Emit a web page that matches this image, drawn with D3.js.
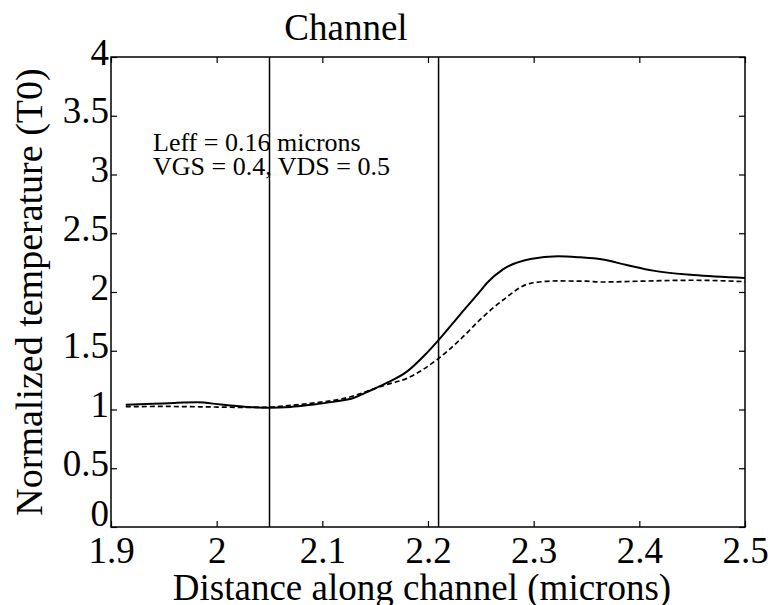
<!DOCTYPE html>
<html>
<head>
<meta charset="utf-8">
<script src="https://cdn.jsdelivr.net/npm/d3@7"></script>
<style>
  html, body { margin: 0; padding: 0; background: #fff; }
  svg { display: block; }
  svg text { font-family: "Liberation Serif", "DejaVu Serif", serif !important; fill: #000; }
</style>
</head>
<body>
<svg id="chart" width="768" height="605"></svg>
<script>
// ---- data ----
const solidX = [1.914, 1.94, 1.96, 1.982, 2.004, 2.03, 2.05, 2.07, 2.089, 2.11, 2.13, 2.14, 2.16, 2.18, 2.197, 2.21, 2.23, 2.249, 2.256, 2.271, 2.297, 2.323, 2.344, 2.364, 2.388, 2.413, 2.451, 2.5];
const solidY = [1.041, 1.048, 1.056, 1.061, 1.042, 1.022, 1.015, 1.022, 1.040, 1.065, 1.100, 1.140, 1.222, 1.322, 1.464, 1.591, 1.804, 2.003, 2.079, 2.193, 2.281, 2.305, 2.295, 2.278, 2.230, 2.182, 2.145, 2.120];
const dashX = [1.914, 1.95, 2.0, 2.03, 2.05, 2.07, 2.089, 2.121, 2.16, 2.18, 2.21, 2.23, 2.249, 2.271, 2.297, 2.322, 2.35, 2.364, 2.4, 2.45, 2.5];
const dashY = [1.024, 1.026, 1.021, 1.018, 1.020, 1.035, 1.053, 1.095, 1.210, 1.265, 1.435, 1.591, 1.762, 1.932, 2.074, 2.094, 2.092, 2.085, 2.092, 2.100, 2.088];
const channelEdges = [2.05, 2.21];
const xTicks = [1.9, 2.0, 2.1, 2.2, 2.3, 2.4, 2.5];
const xTickLabels = ["1.9", "2", "2.1", "2.2", "2.3", "2.4", "2.5"];
const yTicks = [0, 0.5, 1, 1.5, 2, 2.5, 3, 3.5, 4];
const yTickLabels = ["0", "0.5", "1", "1.5", "2", "2.5", "3", "3.5", "4"];
const titleText = "Channel";
const xLabelText = "Distance along channel (microns)";
const yLabelText = "Normalized temperature (T0)";
const noteLines = ["Leff = 0.16 microns", "VGS = 0.4, VDS = 0.5"];

// ---- layout ----
const FONT = "'Liberation Serif', 'DejaVu Serif', serif";
const L = 111, R = 745, T = 57, B = 527;
const svg = d3.select("#chart");
const x = d3.scaleLinear().domain([1.9, 2.5]).range([L, R]);
const y = d3.scaleLinear().domain([0, 4]).range([B, T]);

// frame
svg.append("rect").attr("x", L).attr("y", T).attr("width", R - L).attr("height", B - T)
  .attr("fill", "none").attr("stroke", "#000").attr("stroke-width", 1.5);

const tickLen = 6;
// x ticks bottom & top (inward)
const bottomAxis = d3.axisBottom(x).tickValues(xTicks).tickSize(-tickLen).tickFormat((d, i) => xTickLabels[i]);
const gB = svg.append("g").attr("transform", `translate(0,${B})`).call(bottomAxis)
  .attr("font-family", FONT);
gB.select(".domain").remove();
gB.selectAll(".tick line").attr("stroke", "#000").attr("stroke-width", 1.2);
gB.selectAll(".tick text").attr("font-size", 37).attr("y", 0).attr("dy", 36)
  .attr("font-family", FONT);

const topAxis = d3.axisTop(x).tickValues(xTicks).tickSize(-tickLen).tickFormat("");
const gT = svg.append("g").attr("transform", `translate(0,${T})`).call(topAxis);
gT.select(".domain").remove();
gT.selectAll(".tick line").attr("stroke", "#000").attr("stroke-width", 1.2);

// y ticks left & right
const leftAxis = d3.axisLeft(y).tickValues(yTicks).tickSize(-tickLen).tickFormat((d, i) => yTickLabels[i]);
const gL = svg.append("g").attr("transform", `translate(${L},0)`).call(leftAxis)
  .attr("font-family", FONT);
gL.select(".domain").remove();
gL.selectAll(".tick line").attr("stroke", "#000").attr("stroke-width", 1.2);
gL.selectAll(".tick text").attr("font-size", 37).attr("x", -2)
  .attr("dy", d => d === 0 ? -2 : 7).attr("text-anchor", "end")
  .attr("font-family", FONT);

const rightAxis = d3.axisRight(y).tickValues(yTicks).tickSize(-tickLen).tickFormat("");
const gR = svg.append("g").attr("transform", `translate(${R},0)`).call(rightAxis);
gR.select(".domain").remove();
gR.selectAll(".tick line").attr("stroke", "#000").attr("stroke-width", 1.2);

// channel edge lines
svg.selectAll("line.edge").data(channelEdges).enter().append("line")
  .attr("class", "edge")
  .attr("x1", d => x(d)).attr("x2", d => x(d))
  .attr("y1", T).attr("y2", B)
  .attr("stroke", "#000").attr("stroke-width", 1.5);

// curves
const line = d3.line().x(d => x(d[0])).y(d => y(d[1])).curve(d3.curveMonotoneX);
const solidData = solidX.map((v, i) => [v, solidY[i]]);
const dashData = dashX.map((v, i) => [v, dashY[i]]);

svg.append("path").datum(dashData).attr("d", line)
  .attr("fill", "none").attr("stroke", "#000").attr("stroke-width", 1.7)
  .attr("stroke-dasharray", "5,3");
svg.append("path").datum(solidData).attr("d", line)
  .attr("fill", "none").attr("stroke", "#000").attr("stroke-width", 2);

// title
svg.append("text").attr("x", 346).attr("y", 40).attr("text-anchor", "middle")
  .attr("font-family", FONT).attr("font-size", 37).text(titleText);

// x label
svg.append("text").attr("x", 422).attr("y", 600).attr("text-anchor", "middle")
  .attr("font-family", FONT).attr("font-size", 37).text(xLabelText);

// y label
svg.append("text").attr("transform", "translate(42,292) rotate(-90)")
  .attr("text-anchor", "middle").attr("font-family", FONT).attr("font-size", 38).text(yLabelText);

// annotation
svg.selectAll("text.note").data(noteLines).enter().append("text")
  .attr("class", "note")
  .attr("x", 153).attr("y", (d, i) => 151 + i * 24)
  .attr("font-family", FONT).attr("font-size", 26).text(d => d);
</script>
</body>
</html>
